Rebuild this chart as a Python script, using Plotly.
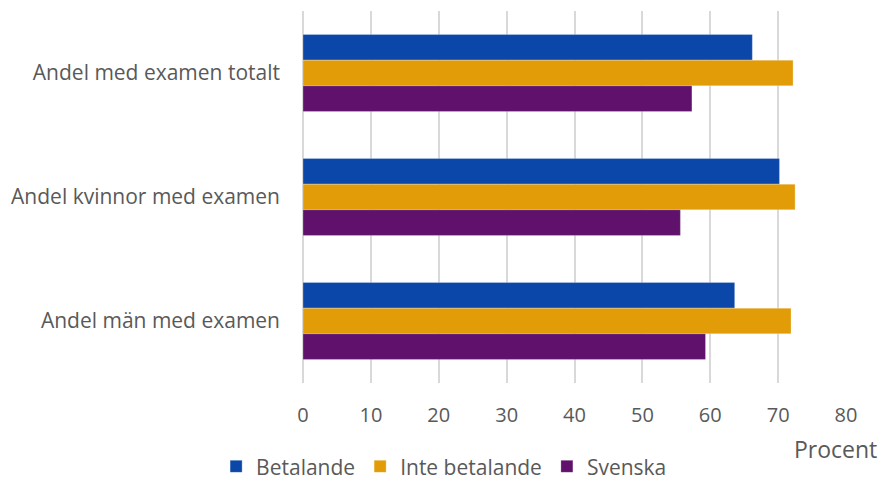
import plotly.graph_objects as go

categories = ["Andel med examen totalt", "Andel kvinnor med examen", "Andel män med examen"]
series_names = ["Betalande", "Inte betalande", "Svenska"]
betalande = [66.2, 70.2, 63.6]
inte_betalande = [72.2, 72.5, 71.9]
svenska = [57.3, 55.6, 59.3]
tick_values = [0, 10, 20, 30, 40, 50, 60, 70, 80]

colors = ["#0A47A9", "#E29C08", "#5F116B"]
font_family = "Open Sans"
text_color = "#595959"

fig = go.Figure()
for name, vals, col in zip(series_names, [betalande, inte_betalande, svenska], colors):
    fig.add_trace(go.Bar(
        y=categories, x=vals, name=name, orientation="h",
        marker=dict(color=col, line=dict(color="rgba(255,255,255,0.5)", width=0.5)),
    ))

# page body has an 8px margin, so the figure is drawn 8px smaller and offset
fig.update_layout(
    width=887, height=472,
    barmode="group", bargap=0.38, bargroupgap=0,
    plot_bgcolor="white", paper_bgcolor="white",
    margin=dict(l=295, r=49, t=3, b=97, autoexpand=False),
    font=dict(family=font_family, size=20, color=text_color),
    legend=dict(orientation="h", x=-0.16, y=-0.225, xanchor="left", yanchor="middle",
                font=dict(size=21, color=text_color), itemwidth=30, tracegroupgap=0),
    showlegend=True,
)
fig.update_xaxes(
    range=[0, 80], tickvals=tick_values, showgrid=True, gridcolor="#D9D9D9", gridwidth=1.5,
    zeroline=True, zerolinecolor="#D9D9D9", zerolinewidth=1.5,
    showline=False, ticks="", ticklabelstandoff=18, automargin=False,
    tickfont=dict(size=20, color=text_color),
)
fig.update_yaxes(
    autorange="reversed", showgrid=False, showline=False, ticks="", automargin=False,
    ticklabelstandoff=22, tickfont=dict(size=21, color=text_color),
)
fig.add_annotation(text="Procent", xref="paper", yref="paper", x=1.06, y=-0.177,
                   xanchor="right", yanchor="middle", showarrow=False,
                   font=dict(size=23, color=text_color))

fig.write_html("out.html")
